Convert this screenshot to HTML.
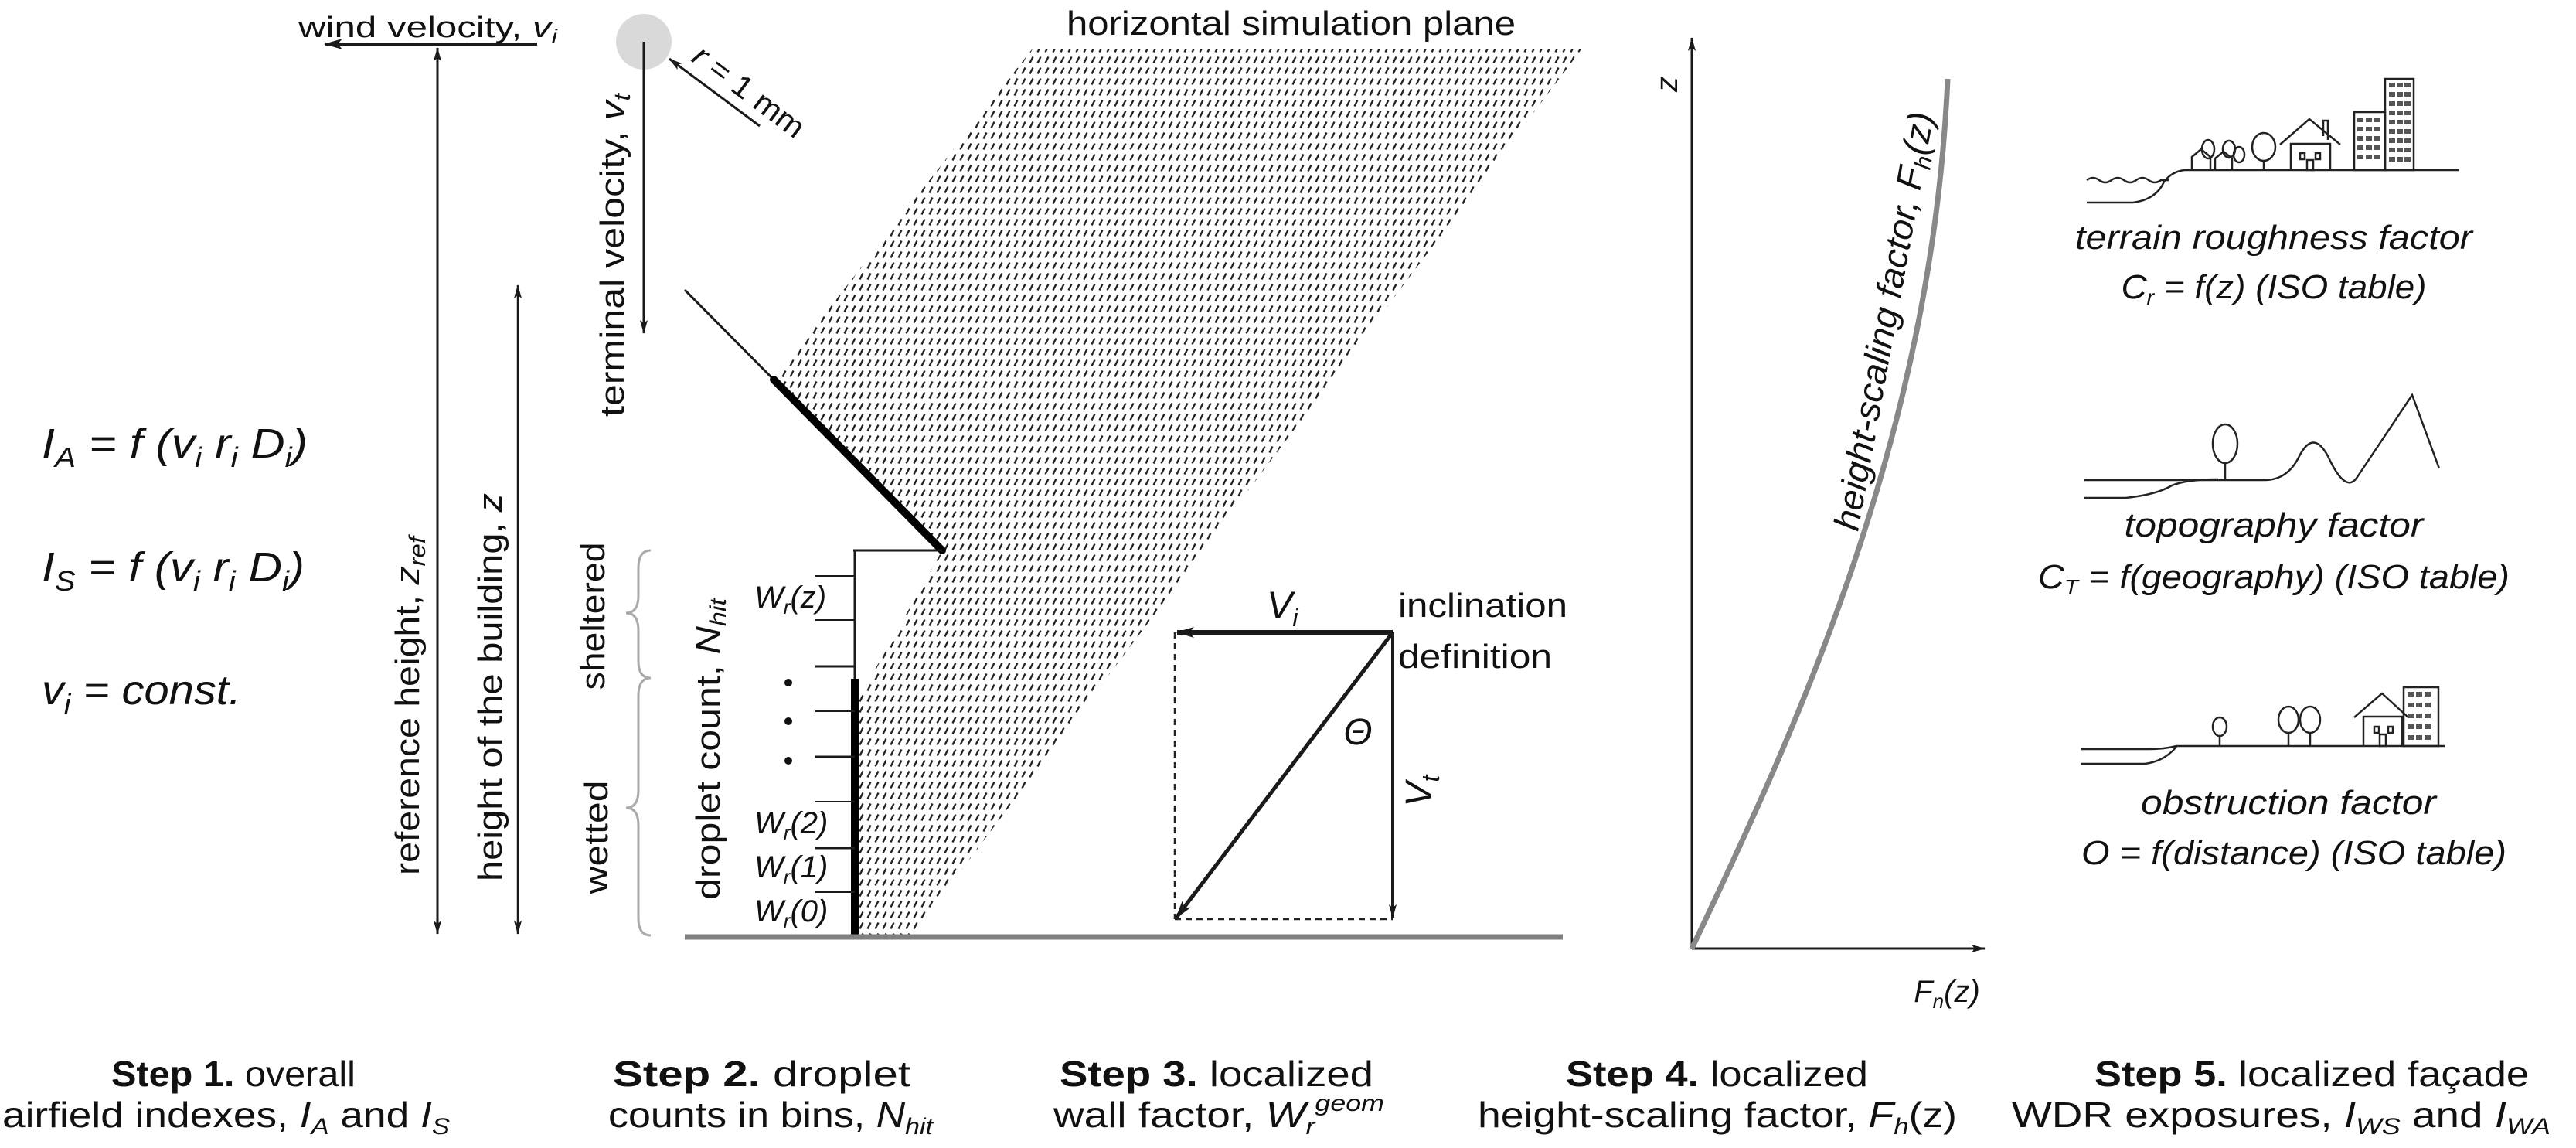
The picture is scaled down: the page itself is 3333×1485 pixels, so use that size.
<!DOCTYPE html>
<html><head><meta charset="utf-8"><style>
html,body{margin:0;padding:0;background:#fff;}
svg{display:block;}
text{font-family:"Liberation Sans",sans-serif;fill:#111;}
.it{font-style:italic;}
</style></head><body>
<svg width="3333" height="1485" viewBox="0 0 3333 1485" xmlns="http://www.w3.org/2000/svg">
<defs>
<marker id="ah" markerUnits="userSpaceOnUse" markerWidth="24" markerHeight="14" refX="22" refY="7" orient="auto-start-reverse"><path d="M0,0 L24,7 L0,14 L6,7 z" fill="#1a1a1a"/></marker>
<marker id="ahs" markerUnits="userSpaceOnUse" markerWidth="18" markerHeight="10" refX="17" refY="5" orient="auto-start-reverse"><path d="M0,0 L18,5 L0,10 L4,5 z" fill="#1a1a1a"/></marker>
<pattern id="hatch" patternUnits="userSpaceOnUse" width="10" height="14">
<path d="M2.5,11.5 L6.5,3.5" stroke="#222" stroke-width="2.4"/>
</pattern>
</defs>

<!-- Step 1 -->
<line x1="695" y1="57" x2="421" y2="57" stroke="#1a1a1a" stroke-width="4" marker-end="url(#ah)"/>
<text x="386" y="48" font-size="38" textLength="335" lengthAdjust="spacingAndGlyphs">wind velocity, <tspan class="it">v</tspan><tspan class="it" font-size="26" dy="8">i</tspan></text>
<line x1="566" y1="62" x2="566" y2="1208" stroke="#1a1a1a" stroke-width="3" marker-start="url(#ahs)" marker-end="url(#ahs)"/>
<line x1="670" y1="369" x2="670" y2="1208" stroke="#1a1a1a" stroke-width="2.5" marker-start="url(#ahs)" marker-end="url(#ahs)"/>
<text transform="translate(542,913) rotate(-90)" text-anchor="middle" font-size="44" textLength="438" lengthAdjust="spacingAndGlyphs">reference  height, <tspan class="it">z</tspan><tspan class="it" font-size="30" dy="8">ref</tspan></text>
<text transform="translate(649,889) rotate(-90)" text-anchor="middle" font-size="44" textLength="502" lengthAdjust="spacingAndGlyphs">height of the building, <tspan class="it">z</tspan></text>

<text class="it" x="54" y="592" font-size="54" textLength="344" lengthAdjust="spacingAndGlyphs">I<tspan font-size="36" dy="12">A</tspan><tspan dy="-12"> = f (v</tspan><tspan font-size="36" dy="12">i</tspan><tspan dy="-12"> r</tspan><tspan font-size="36" dy="12">i</tspan><tspan dy="-12"> D</tspan><tspan font-size="36" dy="12">i</tspan><tspan dy="-12">)</tspan></text>
<text class="it" x="54" y="752" font-size="54" textLength="340" lengthAdjust="spacingAndGlyphs">I<tspan font-size="36" dy="12">S</tspan><tspan dy="-12"> = f (v</tspan><tspan font-size="36" dy="12">i</tspan><tspan dy="-12"> r</tspan><tspan font-size="36" dy="12">i</tspan><tspan dy="-12"> D</tspan><tspan font-size="36" dy="12">i</tspan><tspan dy="-12">)</tspan></text>
<text class="it" x="54" y="911" font-size="54" textLength="258" lengthAdjust="spacingAndGlyphs">v<tspan font-size="36" dy="12">i</tspan><tspan dy="-12"> = const.</tspan></text>

<!-- Step 2 -->
<polygon points="1335,64 2046,64 1180,1210 1110,1210 1110,905 1219,712 1003,488" fill="url(#hatch)"/>
<circle cx="833" cy="54" r="36" fill="#d9d9d9"/>
<line x1="833" y1="54" x2="833" y2="431" stroke="#1a1a1a" stroke-width="3" marker-end="url(#ahs)"/>
<text transform="translate(807,330) rotate(-90)" text-anchor="middle" font-size="44" textLength="418" lengthAdjust="spacingAndGlyphs">terminal velocity, <tspan class="it">v</tspan><tspan class="it" font-size="30" dy="8">t</tspan></text>
<line x1="983" y1="163" x2="866" y2="76" stroke="#1a1a1a" stroke-width="3" marker-end="url(#ahs)"/>
<text transform="translate(893,78) rotate(37)" font-size="40" textLength="170" lengthAdjust="spacingAndGlyphs"><tspan class="it">r</tspan> = 1 mm</text>

<line x1="886" y1="375" x2="1001" y2="491" stroke="#1a1a1a" stroke-width="3"/>
<line x1="1001" y1="491" x2="1219" y2="712" stroke="#000" stroke-width="10" stroke-linecap="round"/>
<line x1="1104" y1="712" x2="1219" y2="712" stroke="#1a1a1a" stroke-width="3"/>
<line x1="1106" y1="711" x2="1106" y2="880" stroke="#1a1a1a" stroke-width="3"/>
<line x1="1106" y1="878" x2="1106" y2="1212" stroke="#000" stroke-width="10"/>
<g stroke="#1a1a1a">
<line x1="1055" y1="745" x2="1106" y2="745" stroke-width="2"/>
<line x1="1055" y1="802" x2="1106" y2="802" stroke-width="2"/>
<line x1="1055" y1="862" x2="1106" y2="862" stroke-width="3"/>
<line x1="1055" y1="920" x2="1106" y2="920" stroke-width="2"/>
<line x1="1055" y1="979" x2="1106" y2="979" stroke-width="3"/>
<line x1="1055" y1="1037" x2="1106" y2="1037" stroke-width="2"/>
<line x1="1055" y1="1097" x2="1106" y2="1097" stroke-width="3"/>
<line x1="1055" y1="1154" x2="1106" y2="1154" stroke-width="2"/>
</g>
<circle cx="1020" cy="883" r="5" fill="#111"/>
<circle cx="1020" cy="933" r="5" fill="#111"/>
<circle cx="1020" cy="984" r="5" fill="#111"/>
<g class="it" font-size="40">
<text class="it" x="976" y="786">W<tspan font-size="26" dy="8">r</tspan><tspan dy="-8">(z)</tspan></text>
<text class="it" x="976" y="1078">W<tspan font-size="26" dy="8">r</tspan><tspan dy="-8">(2)</tspan></text>
<text class="it" x="976" y="1135">W<tspan font-size="26" dy="8">r</tspan><tspan dy="-8">(1)</tspan></text>
<text class="it" x="976" y="1192">W<tspan font-size="26" dy="8">r</tspan><tspan dy="-8">(0)</tspan></text>
</g>
<path d="M842,712 Q826,712 826,735 L826,770 Q826,793 810,793 Q826,793 826,816 L826,855 Q826,877 842,877" fill="none" stroke="#aaa" stroke-width="3"/>
<path d="M842,877 Q826,877 826,900 L826,1022 Q826,1045 810,1045 Q826,1045 826,1068 L826,1188 Q826,1210 842,1210" fill="none" stroke="#aaa" stroke-width="3"/>
<text transform="translate(782,797) rotate(-90)" text-anchor="middle" font-size="44" textLength="191" lengthAdjust="spacingAndGlyphs">sheltered</text>
<text transform="translate(786,1083) rotate(-90)" text-anchor="middle" font-size="44" textLength="147" lengthAdjust="spacingAndGlyphs">wetted</text>
<text transform="translate(931,969) rotate(-90)" text-anchor="middle" font-size="44" textLength="390" lengthAdjust="spacingAndGlyphs">droplet count, <tspan class="it">N</tspan><tspan class="it" font-size="30" dy="8">hit</tspan></text>

<line x1="886" y1="1212" x2="2022" y2="1212" stroke="#808080" stroke-width="7"/>

<!-- Step 3 -->
<text x="1380" y="45" font-size="44" textLength="581" lengthAdjust="spacingAndGlyphs">horizontal simulation plane</text>
<line x1="1520" y1="818" x2="1520" y2="1189" stroke="#222" stroke-width="2.5" stroke-dasharray="8,6"/>
<line x1="1520" y1="1189" x2="1802" y2="1189" stroke="#222" stroke-width="2.5" stroke-dasharray="8,6"/>
<line x1="1802" y1="818" x2="1523" y2="818" stroke="#1a1a1a" stroke-width="6" marker-end="url(#ah)"/>
<line x1="1802" y1="818" x2="1802" y2="1187" stroke="#1a1a1a" stroke-width="4" marker-end="url(#ahs)"/>
<line x1="1802" y1="818" x2="1522" y2="1187" stroke="#1a1a1a" stroke-width="5" marker-end="url(#ah)"/>
<text class="it" x="1639" y="800" font-size="50">V<tspan font-size="32" dy="10">i</tspan></text>
<text x="1809" y="798" font-size="44" textLength="219" lengthAdjust="spacingAndGlyphs">inclination</text>
<text x="1809" y="864" font-size="44" textLength="199" lengthAdjust="spacingAndGlyphs">definition</text>
<text class="it" x="1757" y="963" font-size="48" text-anchor="middle">Θ</text>
<text class="it" transform="translate(1852,1023) rotate(-90)" text-anchor="middle" font-size="48">V<tspan font-size="32" dy="10">t</tspan></text>

<!-- Step 4 -->
<line x1="2189" y1="1227" x2="2189" y2="49" stroke="#1a1a1a" stroke-width="3" marker-end="url(#ahs)"/>
<line x1="2189" y1="1227" x2="2568" y2="1227" stroke="#1a1a1a" stroke-width="3" marker-end="url(#ahs)"/>
<path d="M2189,1227 C2330,930 2500,560 2520,102" fill="none" stroke="#888" stroke-width="7"/>
<text class="it" transform="translate(2170,109) rotate(-90)" text-anchor="middle" font-size="40">z</text>
<text class="it" transform="translate(2453,418) rotate(-79.7)" text-anchor="middle" font-size="46" textLength="549" lengthAdjust="spacingAndGlyphs">height-scaling factor, F<tspan font-size="30" dy="8">h</tspan><tspan dy="-8">(z)</tspan></text>
<text class="it" x="2519" y="1296" text-anchor="middle" font-size="40">F<tspan font-size="26" dy="8">n</tspan><tspan dy="-8">(z)</tspan></text>

<!-- Step 5 icons -->
<g fill="none" stroke="#222" stroke-width="2.5">
<line x1="2824" y1="220" x2="3182" y2="220"/>
<path d="M2700,233 q8,-6 16,0 t16,0 t16,0 t16,0 t16,0 t16,0 l10,0"/>
<path d="M2700,262 L2760,262 Q2790,258 2800,235 Q2810,222 2826,220"/>
<rect x="3086" y="102" width="37" height="118"/>
<rect x="3046" y="145" width="40" height="75"/>
<path d="M2964,220 L2964,186 L3015,186 L3015,220"/>
<path d="M2950,187 L2988,154 L3028,187"/>
<path d="M3006,176 L3006,156 L3012,156 L3012,181"/>
<rect x="2976" y="198" width="6" height="8"/><rect x="2996" y="198" width="6" height="8"/>
<rect x="2985" y="207" width="8" height="13"/>
<ellipse cx="2929" cy="190" rx="15" ry="18"/>
<line x1="2929" y1="208" x2="2929" y2="220"/>
<path d="M2836,220 L2836,203 L2848,193 L2860,203 L2860,220"/>
<path d="M2866,220 L2866,205 L2877,196 L2888,205 L2888,220"/>
<ellipse cx="2857" cy="193" rx="8" ry="12"/>
<ellipse cx="2884" cy="193" rx="8" ry="11"/>
<ellipse cx="2897" cy="200" rx="7" ry="10"/>
</g>
<g fill="none" stroke="#333" stroke-width="1.5">
<path d="M3091,110 h8 M3101,110 h8 M3111,110 h8 M3091,122 h8 M3101,122 h8 M3111,122 h8 M3091,134 h8 M3101,134 h8 M3111,134 h8 M3091,146 h8 M3101,146 h8 M3111,146 h8 M3091,158 h8 M3101,158 h8 M3111,158 h8 M3091,170 h8 M3101,170 h8 M3111,170 h8 M3091,182 h8 M3101,182 h8 M3111,182 h8 M3091,194 h8 M3101,194 h8 M3111,194 h8 M3091,206 h8 M3101,206 h8 M3111,206 h8" stroke-width="6" stroke="#555" stroke-dasharray="8,2"/>
<path d="M3050,155 h32 M3050,167 h32 M3050,179 h32 M3050,191 h32 M3050,203 h32" stroke-width="6" stroke="#555" stroke-dasharray="8,3"/>
</g>
<text class="it" x="2942" y="322" text-anchor="middle" font-size="44" textLength="514" lengthAdjust="spacingAndGlyphs">terrain roughness factor</text>
<text class="it" x="2942" y="386" text-anchor="middle" font-size="44" textLength="395" lengthAdjust="spacingAndGlyphs">C<tspan font-size="28" dy="8">r</tspan><tspan dy="-8"> = f(z) (ISO table)</tspan></text>

<g fill="none" stroke="#222" stroke-width="2.5">
<path d="M2697,621 L2930,621 Q2960,621 2975,590 Q2993,555 3012,590 Q3035,640 3050,617 L3121,511 L3156,606"/>
<path d="M2697,644 L2750,644 Q2790,640 2810,628 Q2830,620 2870,620"/>
<ellipse cx="2879" cy="574" rx="16" ry="25"/>
<line x1="2879" y1="599" x2="2879" y2="620"/>
</g>
<text class="it" x="2942" y="694" text-anchor="middle" font-size="44" textLength="387" lengthAdjust="spacingAndGlyphs">topography factor</text>
<text class="it" x="2942" y="761" text-anchor="middle" font-size="44" textLength="610" lengthAdjust="spacingAndGlyphs">C<tspan font-size="28" dy="8">T</tspan><tspan dy="-8"> = f(geography) (ISO table)</tspan></text>

<g fill="none" stroke="#222" stroke-width="2.5">
<line x1="2816" y1="965" x2="3163" y2="965"/>
<path d="M2693,969 L2780,969 Q2800,969 2816,965"/>
<path d="M2693,988 L2775,988 Q2800,985 2816,966"/>
<ellipse cx="2872" cy="940" rx="9" ry="12"/><line x1="2872" y1="952" x2="2872" y2="965"/>
<ellipse cx="2961" cy="931" rx="13" ry="17"/><line x1="2961" y1="948" x2="2961" y2="965"/>
<ellipse cx="2989" cy="931" rx="13" ry="17"/><line x1="2989" y1="948" x2="2989" y2="965"/>
<rect x="3110" y="889" width="45" height="76"/>
<path d="M3058,965 L3058,927 L3108,927 L3108,965"/>
<path d="M3046,928 L3082,897 L3116,928"/>
<rect x="3072" y="940" width="6" height="8"/><rect x="3090" y="940" width="6" height="8"/>
<rect x="3079" y="950" width="8" height="15"/>
<path d="M3115,898 h32 M3115,912 h32 M3115,926 h32 M3115,940 h32 M3115,954 h32" stroke-width="6" stroke="#555" stroke-dasharray="8,3"/>
</g>
<text class="it" x="2961" y="1053" text-anchor="middle" font-size="44" textLength="382" lengthAdjust="spacingAndGlyphs">obstruction factor</text>
<text class="it" x="2968" y="1118" text-anchor="middle" font-size="44" textLength="550" lengthAdjust="spacingAndGlyphs">O = f(distance) (ISO table)</text>

<!-- Captions -->
<g font-size="46">
<text x="144" y="1405" textLength="316" lengthAdjust="spacingAndGlyphs"><tspan font-weight="bold">Step 1.</tspan> overall</text>
<text x="3" y="1458" textLength="579" lengthAdjust="spacingAndGlyphs">airfield indexes, <tspan class="it">I</tspan><tspan class="it" font-size="30" dy="9">A</tspan><tspan dy="-9"> and </tspan><tspan class="it">I</tspan><tspan class="it" font-size="30" dy="9">S</tspan></text>
<text x="793" y="1405" textLength="385" lengthAdjust="spacingAndGlyphs"><tspan font-weight="bold">Step 2.</tspan> droplet</text>
<text x="787" y="1458" textLength="420" lengthAdjust="spacingAndGlyphs">counts in bins, <tspan class="it">N</tspan><tspan class="it" font-size="30" dy="9">hit</tspan></text>
<text x="1371" y="1405" textLength="406" lengthAdjust="spacingAndGlyphs"><tspan font-weight="bold">Step 3.</tspan> localized</text>
<text x="1363" y="1458" textLength="428" lengthAdjust="spacingAndGlyphs">wall factor, <tspan class="it">W</tspan><tspan class="it" font-size="30" dy="9">r</tspan><tspan class="it" font-size="30" dy="-30">geom</tspan></text>
<text x="2026" y="1405" textLength="391" lengthAdjust="spacingAndGlyphs"><tspan font-weight="bold">Step 4.</tspan> localized</text>
<text x="1912" y="1458" textLength="620" lengthAdjust="spacingAndGlyphs">height-scaling factor, <tspan class="it">F</tspan><tspan class="it" font-size="30" dy="9">h</tspan><tspan dy="-9">(z)</tspan></text>
<text x="2710" y="1405" textLength="562" lengthAdjust="spacingAndGlyphs"><tspan font-weight="bold">Step 5.</tspan> localized façade</text>
<text x="2603" y="1458" textLength="697" lengthAdjust="spacingAndGlyphs">WDR exposures, <tspan class="it">I</tspan><tspan class="it" font-size="30" dy="9">WS</tspan><tspan dy="-9"> and </tspan><tspan class="it">I</tspan><tspan class="it" font-size="30" dy="9">WA</tspan></text>
</g>
</svg>
</body></html>
